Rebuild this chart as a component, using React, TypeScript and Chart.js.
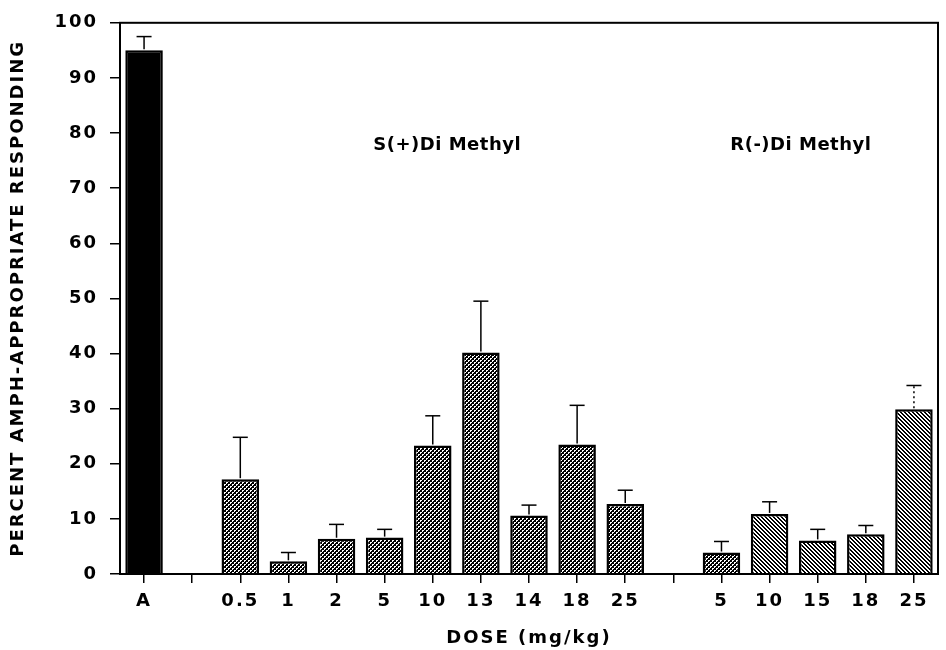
import React, { useEffect, useRef } from 'react';
import { Chart, registerables } from 'chart.js';

Chart.register(...registerables);

// ---- data ----
const categories = ['A', '', '0.5', '1', '2', '5', '10', '13', '14', '18', '25', '', '5', '10', '15', '18', '25'];
const meanValues: (number | null)[] = [95, null, 17.2, 2.3, 6.4, 6.6, 23.3, 40.2, 10.6, 23.5, 12.7, null, 3.9, 10.9, 6.1, 7.2, 29.9];
const semValues: (number | null)[] = [2.5, null, 7.6, 1.6, 2.6, 1.5, 5.4, 9.3, 1.9, 7.1, 2.5, null, 2.0, 2.2, 2.0, 1.6, 4.3];
const fillKinds: (string | null)[] = ['solid', null, 'cross', 'cross', 'cross', 'cross', 'cross', 'cross', 'cross', 'cross', 'cross', null, 'cross', 'diag', 'diag', 'diag', 'diag'];
const groupLabels = ['S(+)Di Methyl', 'R(-)Di Methyl'];
const groupLabelAt = [6.3, 13.65]; // category position of each group label
const groupLabelValue = 77.8;
const yTitle = 'PERCENT AMPH-APPROPRIATE RESPONDING';
const xTitle = 'DOSE (mg/kg)';
const dottedErrorIndex = 16;

const FONT = '"DejaVu Sans", sans-serif';

function makePattern(kind: string | null): any {
  if (kind === 'solid') return '#000';
  if (!kind) return 'rgba(0,0,0,0)';
  const c = document.createElement('canvas');
  c.width = 4;
  c.height = 4;
  const g = c.getContext('2d')!;
  if (kind === 'cross') {
    g.fillStyle = '#000';
    g.fillRect(0, 0, 4, 4);
    g.fillStyle = '#fff';
    [[0, 0], [1, 0], [0, 1], [2, 2], [3, 2], [2, 3]].forEach(([x, y]) => g.fillRect(x, y, 1, 1));
  } else {
    g.fillStyle = '#fff';
    g.fillRect(0, 0, 4, 4);
    g.fillStyle = '#000';
    for (let x = 0; x < 4; x++) {
      for (let y = 0; y < 4; y++) {
        if ((x - y + 8) % 4 < 2) g.fillRect(x, y, 1, 1);
      }
    }
  }
  return g.createPattern(c, 'repeat');
}

const spacingPlugin = {
  id: 'spacing',
  beforeUpdate(chart: any) {
    chart.ctx.letterSpacing = '2px';
  },
  beforeDraw(chart: any) {
    chart.ctx.letterSpacing = '2px';
  },
};

const extrasPlugin = {
  id: 'extras',
  afterDatasetsDraw(chart: any) {
    const ctx = chart.ctx;
    const meta = chart.getDatasetMeta(0);
    const yScale = chart.scales.y;
    const xScale = chart.scales.x;
    ctx.save();
    ctx.strokeStyle = '#000';
    meanValues.forEach((m, i) => {
      const s = semValues[i];
      if (m == null || s == null) return;
      const bar = meta.data[i];
      const x = bar.x;
      const yb = yScale.getPixelForValue(m);
      const yt = yScale.getPixelForValue(m + s);
      ctx.lineWidth = 1.5;
      ctx.setLineDash(i === dottedErrorIndex ? [2, 3] : []);
      ctx.beginPath();
      ctx.moveTo(x, yb - 1);
      ctx.lineTo(x, yt);
      ctx.stroke();
      ctx.setLineDash([]);
      ctx.beginPath();
      ctx.moveTo(x - 7.5, yt);
      ctx.lineTo(x + 7.5, yt);
      ctx.stroke();
    });
    // group labels
    ctx.letterSpacing = '0.5px';
    ctx.fillStyle = '#000';
    ctx.font = `bold 18px ${FONT}`;
    ctx.textAlign = 'center';
    ctx.textBaseline = 'middle';
    groupLabels.forEach((t, k) => {
      const pos = groupLabelAt[k];
      const i0 = Math.floor(pos);
      const f = pos - i0;
      const x = xScale.getPixelForValue(i0) * (1 - f) + xScale.getPixelForValue(i0 + 1) * f;
      ctx.fillText(t, x, yScale.getPixelForValue(groupLabelValue));
    });
    ctx.restore();
  },
  afterDraw(chart: any) {
    const ctx = chart.ctx;
    const a = chart.chartArea;
    ctx.save();
    ctx.strokeStyle = '#000';
    ctx.lineWidth = 2;
    ctx.strokeRect(a.left, a.top, a.right - a.left, a.bottom - a.top);
    ctx.restore();
  },
};

export default function App() {
  const ref = useRef<HTMLCanvasElement>(null);
  useEffect(() => {
    document.body.style.margin = '0';
    const canvas = ref.current!;
    const chart = new Chart(canvas, {
      type: 'bar',
      data: {
        labels: categories,
        datasets: [
          {
            data: meanValues as any,
            backgroundColor: fillKinds.map(makePattern),
            borderColor: '#000',
            borderWidth: 2.5,
            barPercentage: 0.78,
            categoryPercentage: 1,
          },
        ],
      },
      options: {
        responsive: false,
        animation: false,
        devicePixelRatio: 1,
        layout: { padding: { top: 16, right: 8, bottom: 0, left: 0 } },
        plugins: { legend: { display: false }, tooltip: { enabled: false } },
        scales: {
          x: {
            type: 'category',
            offset: true,
            grid: {
              display: true,
              offset: false,
              drawOnChartArea: false,
              drawTicks: true,
              tickLength: 9,
              color: '#000',
              lineWidth: 1.5,
            },
            border: { display: true, color: '#000', width: 2 },
            ticks: {
              color: '#000',
              font: { family: FONT, size: 18, weight: 'bold' },
              padding: 8,
              maxRotation: 0,
              autoSkip: false,
            },
            title: {
              display: true,
              text: xTitle,
              color: '#000',
              font: { family: FONT, size: 18, weight: 'bold' },
              padding: { top: 0, bottom: 1 },
            },
            afterFit: (s: any) => {
              s.height = 76;
            },
          } as any,
          y: {
            min: 0,
            max: 100,
            grid: {
              display: true,
              drawOnChartArea: false,
              drawTicks: true,
              tickLength: 10,
              color: '#000',
              lineWidth: 1.5,
            },
            border: { display: true, color: '#000', width: 2 },
            ticks: {
              stepSize: 10,
              color: '#000',
              font: { family: FONT, size: 18, weight: 'bold' },
              padding: 12,
            },
            title: {
              display: true,
              text: yTitle,
              color: '#000',
              font: { family: FONT, size: 18, weight: 'bold' },
              padding: { top: 8, bottom: 0 },
            },
            afterFit: (s: any) => {
              s.width = 120;
            },
          } as any,
        },
      },
      plugins: [spacingPlugin, extrasPlugin],
    });
    return () => chart.destroy();
  }, []);
  return (
    <canvas
      ref={ref}
      width={946}
      height={650}
      style={{ display: 'block', width: '946px', height: '650px' }}
    />
  );
}
